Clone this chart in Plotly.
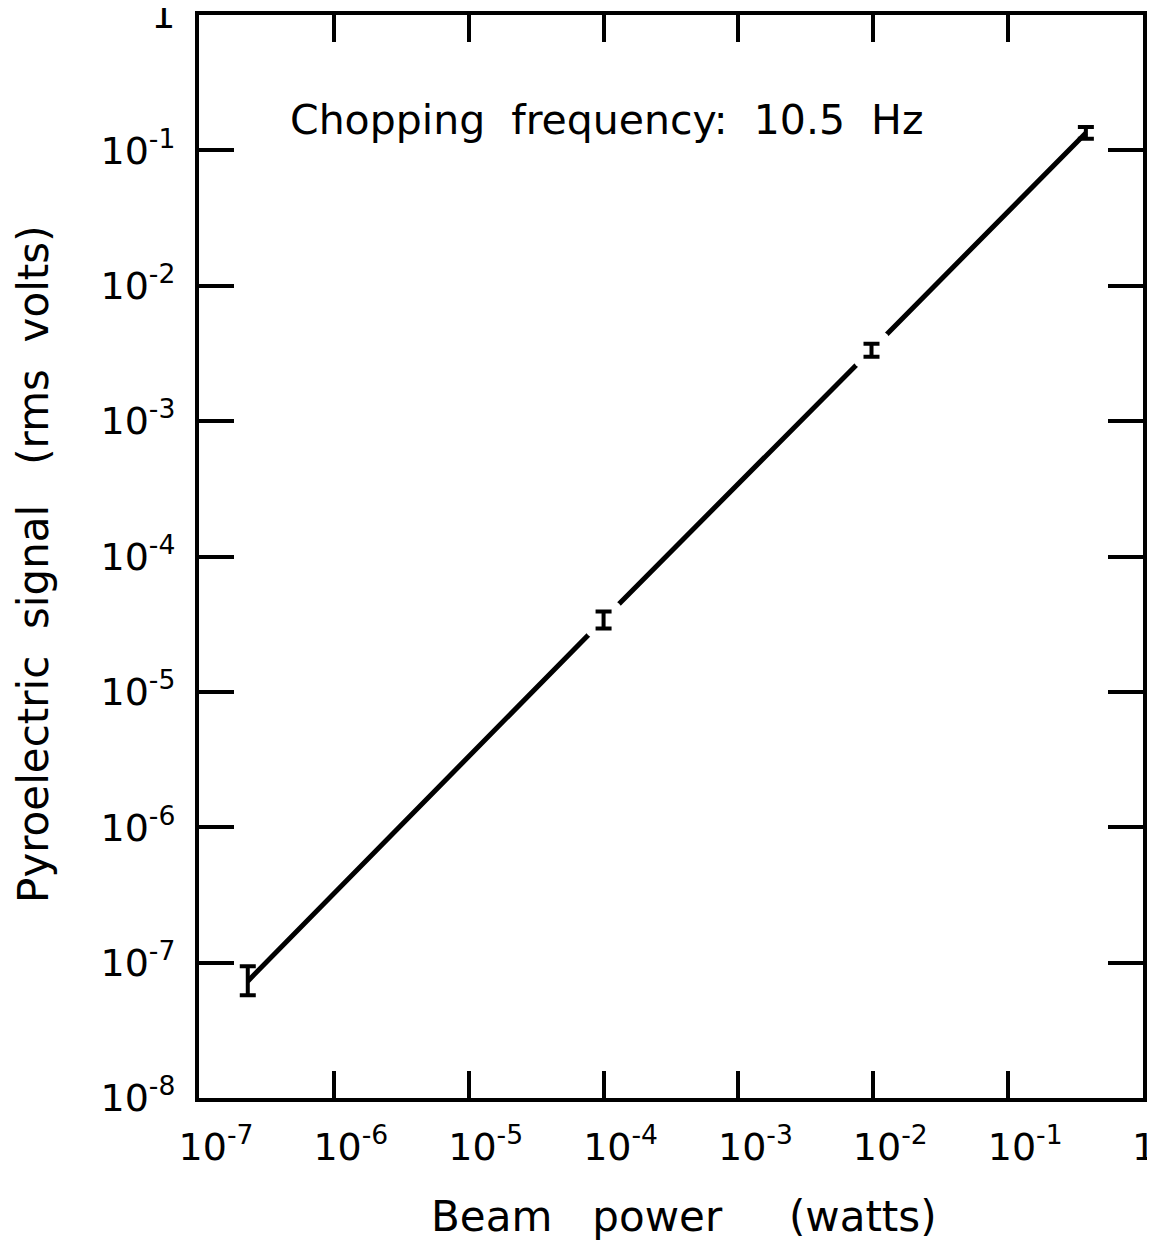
import plotly.graph_objects as go

# ---- data ----
beam_power = [2.3e-7, 1.0e-4, 9.7e-3, 0.377]          # watts
signal = [7.3e-8, 3.43e-5, 3.37e-3, 0.1345]            # rms volts
signal_hi = [9.4e-8, 3.93e-5, 3.73e-3, 0.149]
signal_lo = [5.75e-8, 2.94e-5, 2.99e-3, 0.1217]
gap_idx = [1, 2]                                       # line is broken around these bars

x_tickvals = [1e-7, 1e-6, 1e-5, 1e-4, 1e-3, 1e-2, 1e-1, 1e0]
x_ticktext = ["10<sup>-7</sup>", "10<sup>-6</sup>", "10<sup>-5</sup>", "10<sup>-4</sup>",
              "10<sup>-3</sup>", "10<sup>-2</sup>", "10<sup>-1</sup>", "1\u00a0\u00a0\u2009"]
y_tickvals = [1e-8, 1e-7, 1e-6, 1e-5, 1e-4, 1e-3, 1e-2, 1e-1, 1e0]
y_ticktext = ["10<sup>-8</sup>", "10<sup>-7</sup>", "10<sup>-6</sup>", "10<sup>-5</sup>",
              "10<sup>-4</sup>", "10<sup>-3</sup>", "10<sup>-2</sup>", "10<sup>-1</sup>", "1"]

annotation_text = "Chopping  frequency:  10.5  Hz"
x_title = "Beam   power     (watts)"
y_title = "Pyroelectric  signal   (rms  volts)"

FONT = "DejaVu Sans"
err_plus = [h - v for h, v in zip(signal_hi, signal)]
err_minus = [v - l for v, l in zip(signal, signal_lo)]

fig = go.Figure()
# fitted straight line through the points
fig.add_trace(go.Scatter(x=beam_power, y=signal, mode="lines",
                         line=dict(color="black", width=5), hoverinfo="skip"))
# white masks producing the gaps in the line around the middle bars
fig.add_trace(go.Scatter(x=[beam_power[i] for i in gap_idx], y=[signal[i] for i in gap_idx],
                         mode="markers",
                         marker=dict(color="white", size=44, symbol="circle", line=dict(width=0)),
                         hoverinfo="skip"))
# error bars
fig.add_trace(go.Scatter(x=beam_power, y=signal, mode="markers",
                         marker=dict(color="black", size=1, opacity=0),
                         error_y=dict(type="data", symmetric=False, array=err_plus,
                                      arrayminus=err_minus, color="black", thickness=4, width=8)))

axis_common = dict(type="log", showgrid=False, zeroline=False, showline=True,
                   linecolor="black", linewidth=4, mirror="allticks", ticks="inside",
                   tickwidth=4, tickcolor="black", tickmode="array", automargin=False,
                   ticklabeloverflow="allow",
                   tickfont=dict(family=FONT, size=38, color="black"))

fig.update_xaxes(**axis_common, range=[-7, 0], tickvals=x_tickvals, ticktext=x_ticktext,
                 ticklen=27, ticklabelstandoff=12, ticklabelshift=17)
fig.update_yaxes(**axis_common, range=[-8, 0], tickvals=y_tickvals, ticktext=y_ticktext,
                 ticklen=35, ticklabelstandoff=12)

fig.add_annotation(text=annotation_text, xref="paper", yref="paper", x=0.0943, y=0.903,
                   xanchor="left", yanchor="middle", showarrow=False,
                   font=dict(family=FONT, size=41, color="black"))
fig.add_annotation(text=x_title, xref="paper", yref="paper", x=0.5143, y=-0.109,
                   xanchor="center", yanchor="middle", showarrow=False,
                   font=dict(family=FONT, size=42, color="black"))
fig.add_annotation(text=y_title, xref="paper", yref="paper", x=-0.176, y=0.493,
                   xanchor="center", yanchor="middle", showarrow=False, textangle=-90,
                   font=dict(family=FONT, size=42, color="black"))

# page adds an 8px body margin; size and margins keep the figure inside the visible area
fig.update_layout(width=1139, height=1233, showlegend=False,
                  paper_bgcolor="white", plot_bgcolor="white",
                  margin=dict(l=191, r=4, t=7, b=143))

fig.write_html("out.html")
